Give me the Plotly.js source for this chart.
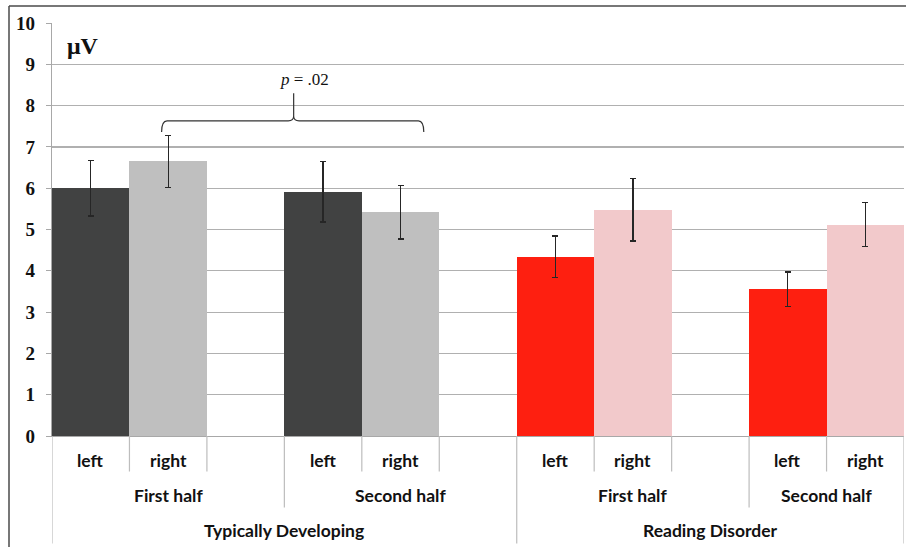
<!DOCTYPE html>
<html>
<head>
<meta charset="utf-8">
<script src="https://cdn.plot.ly/plotly-3.0.1.min.js"></script>
<style>html,body{margin:0;padding:0;background:#fff;}#chart{width:906px;height:547px;}</style>
</head>
<body>
<div id="chart"></div>
<script>
// ---- data ----
const groups = ["Typically Developing", "Reading Disorder"];
const halves = ["First half", "Second half"];
const sides = ["left", "right"];
// order: TD-FH-left, TD-FH-right, TD-SH-left, TD-SH-right, RD-FH-left, RD-FH-right, RD-SH-left, RD-SH-right
const values = [6.00, 6.65, 5.91, 5.42, 4.34, 5.48, 3.55, 5.12];
const errors = [0.67, 0.63, 0.73, 0.65, 0.50, 0.76, 0.42, 0.53];
const yTicks = [0, 1, 2, 3, 4, 5, 6, 7, 8, 9, 10];
const unitLabel = "μV";
const pLabel = "<i>p</i> = .02";
const colors = {
  "Typically Developing": {left: "#414242", right: "#bfbfbf"},
  "Reading Disorder": {left: "#fe1f10", right: "#f2c9cb"}
};

// ---- build slot positions (each half has left, right, then a blank slot) ----
const xs = [], ys = [], es = [], cs = [];
let k = 0;
groups.forEach((g, gi) => halves.forEach((h, hi) => sides.forEach((s, si) => {
  xs.push(gi * 6 + hi * 3 + si);
  ys.push(values[k]); es.push(errors[k]); cs.push(colors[g][s]);
  k++;
})));
const nSlots = Math.max(...xs) + 1;

const trace = {
  type: "bar", x: xs, y: ys, width: 1,
  marker: {color: cs, line: {width: 0}},
  error_y: {type: "data", array: es, visible: true, color: "#262626", thickness: 1.3, width: 3},
  hoverinfo: "y"
};

// ---- hierarchical category labels and dividers ----
const annotations = [], shapes = [];
const labFont = {family: "Lato, 'Liberation Sans', sans-serif", size: 17.5, color: "#111", weight: "bold"};
const yL1 = -0.059, yL2 = -0.144, yL3 = -0.2285;
const dL1 = -0.086, dL2 = -0.173, dL3 = -0.26;
const lineCol = "#bdbdbd";
function vline(x, y1) {
  shapes.push({type: "line", xref: "x", yref: "paper", x0: x, x1: x, y0: 0, y1: y1,
    line: {color: lineCol, width: 1.2}});
}
xs.forEach((x, i) => {
  annotations.push({x: x, y: yL1, xref: "x", yref: "paper", text: "<b>" + sides[i % 2] + "</b>",
    showarrow: false, font: labFont, yanchor: "middle"});
});
const level2 = new Set(), level3 = new Set();
groups.forEach((g, gi) => {
  const gStart = gi * 6, gEnd = Math.min(gStart + 6, nSlots);
  annotations.push({x: (gStart + gEnd - 1) / 2, y: yL3, xref: "x", yref: "paper", text: "<b>" + g + "</b>",
    showarrow: false, font: labFont, yanchor: "middle"});
  level3.add(gStart - 0.5); level3.add(gEnd - 0.5);
  halves.forEach((h, hi) => {
    const hStart = gStart + hi * 3, hEnd = Math.min(hStart + 3, nSlots);
    annotations.push({x: (hStart + hEnd - 1) / 2, y: yL2, xref: "x", yref: "paper", text: "<b>" + h + "</b>",
      showarrow: false, font: labFont, yanchor: "middle"});
    level2.add(hStart - 0.5); level2.add(hEnd - 0.5);
  });
});
for (let i = 0; i <= nSlots; i++) {
  const x = i - 0.5;
  if (level3.has(x)) vline(x, dL3);
  else if (level2.has(x)) vline(x, dL2);
  else vline(x, dL1);
}

// ---- significance brace ----
const bx0 = 0.915, bx1 = 4.3, bxc = 2.62, by = 7.63, byHook = 7.36, byCusp = 7.74, byTop = 8.3;
const dx = 0.07;
shapes.push({type: "path", xref: "x", yref: "y",
  path: `M ${bx0},${byHook} Q ${bx0},${by} ${bx0 + dx},${by} L ${bxc - dx},${by} Q ${bxc},${by} ${bxc},${byCusp} L ${bxc},${byTop} M ${bxc},${byCusp} Q ${bxc},${by} ${bxc + dx},${by} L ${bx1 - dx},${by} Q ${bx1},${by} ${bx1},${byHook}`,
  line: {color: "#333", width: 1.2}});
annotations.push({x: 2.76, y: 8.62, xref: "x", yref: "y", text: pLabel, showarrow: false,
  font: {family: "'Liberation Serif', 'Times New Roman', serif", size: 17, color: "#111"}});
annotations.push({x: 0.015, y: 0.944, xref: "paper", yref: "paper", text: "<b>" + unitLabel + "</b>",
  showarrow: false, xanchor: "left", yanchor: "middle",
  font: {family: "'Liberation Serif', 'Times New Roman', serif", size: 24, color: "#111", weight: "bold"}});

// ---- outer frame (partially clipped in the reference) ----
shapes.push({type: "line", xref: "paper", yref: "paper", x0: -43 / 852, x1: 1.01, y0: (436.5 - 6) / 413.5, y1: (436.5 - 6) / 413.5,
  line: {color: "#4a4a4a", width: 1.5}});
shapes.push({type: "line", xref: "paper", yref: "paper", x0: -43 / 852, x1: -43 / 852, y0: (436.5 - 6) / 413.5, y1: -0.3,
  line: {color: "#4a4a4a", width: 1.5}});

const layout = {
  width: 906, height: 547,
  margin: {l: 52, r: 2, t: 23, b: 110.5, pad: 0},
  paper_bgcolor: "#fff", plot_bgcolor: "#fff",
  showlegend: false,
  bargap: 0,
  xaxis: {type: "linear", range: [-0.5, nSlots - 0.5], showticklabels: false, showgrid: false,
    zeroline: false, showline: true, linecolor: "#a8a8a8", linewidth: 1.2, ticks: ""},
  yaxis: {range: [0, 10], tickvals: yTicks, ticktext: yTicks.map(String), showgrid: true,
    gridcolor: "#b0b0b0", gridwidth: 1.2, zeroline: false, showline: true, linecolor: "#a8a8a8",
    linewidth: 1.2, ticks: "outside", ticklen: 5, tickcolor: "#a8a8a8", ticklabelstandoff: 7,
    tickfont: {family: "'Liberation Serif', 'Times New Roman', serif", size: 19, color: "#111", weight: "bold"}},
  annotations: annotations,
  shapes: shapes
};

Plotly.newPlot("chart", [trace], layout, {staticPlot: true, displayModeBar: false});
</script>
</body>
</html>
